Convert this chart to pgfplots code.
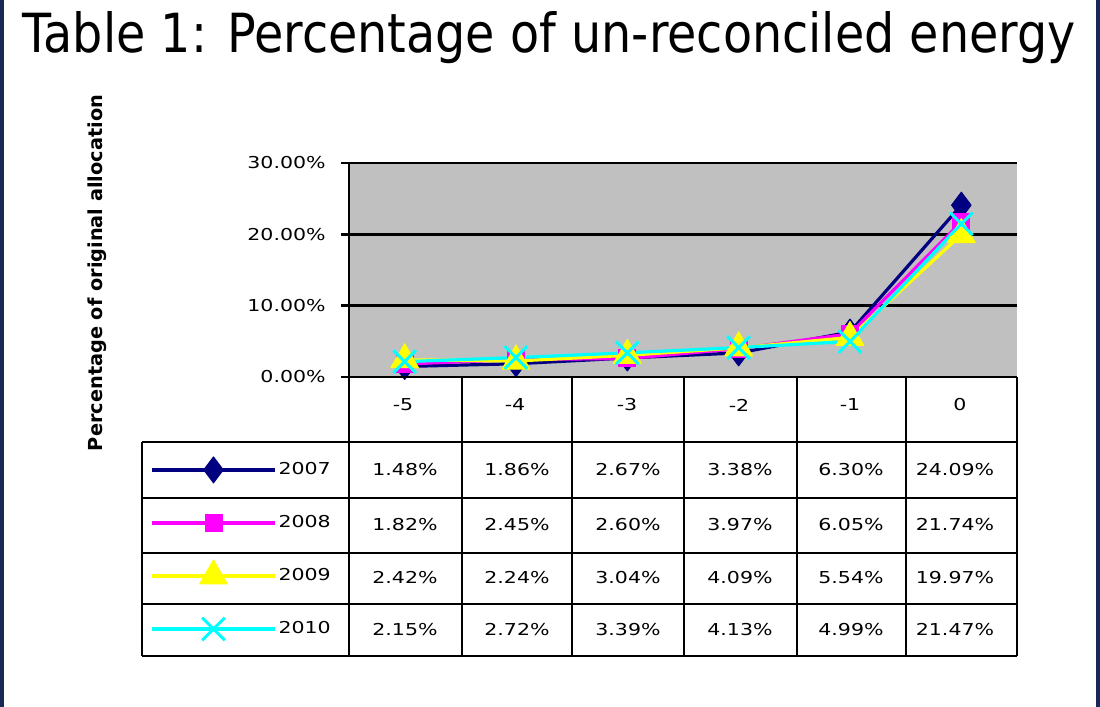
\documentclass[border=0pt]{standalone}
\usepackage{fontspec}
\setmainfont{DejaVu Sans}
\usepackage{pgfplots}
\pgfplotsset{compat=1.18}
\definecolor{navyc}{RGB}{0,0,128}
\definecolor{magc}{RGB}{255,0,255}
\definecolor{yelc}{RGB}{255,255,0}
\definecolor{cyac}{RGB}{0,255,255}
\definecolor{bgray}{RGB}{192,192,192}
\definecolor{framec}{RGB}{25,40,85}
\newcommand{\sx}[1]{\scalebox{1.25}[1]{#1}}
\newcommand{\tf}{\fontsize{8.2pt}{10pt}\selectfont}
\begin{document}
\begin{tikzpicture}
\begin{scope}[x=0.5pt,y=-0.5pt]
\fill[white] (0,0) rectangle (1100,707);
\fill[framec] (0,0) rectangle (4,707);
\fill[framec] (1096,0) rectangle (1100,707);
\node[anchor=base west, inner sep=0pt] at (22,52) {\resizebox{526.5pt}{20.5pt}{Table 1: Percentage of un-reconciled energy}};
\end{scope}
\begin{axis}[
  at={(174.5pt,-188.5pt)}, anchor=south west,
  width=334pt, height=107pt, scale only axis,
  xmin=-5.5, xmax=0.5, ymin=0, ymax=30,
  xtick=\empty, ytick={0,10,20,30},
  yticklabels={\sx{0.00\%},\sx{10.00\%},\sx{20.00\%},\sx{30.00\%}},
  ticklabel style={font=\tf},
  yticklabel style={inner sep=0pt, xshift=-7.5pt},
  /pgf/number format/assume math mode=true,
  axis lines*=left, axis line style={line width=1.2pt,-},
  ymajorgrids, major grid style={black,line width=1.2pt},
  tick align=outside, major tick length=4pt, tick style={black,line width=1.2pt},
  axis background/.style={fill=bgray},
  clip=false,
  ylabel={\resizebox{178pt}{!}{\bfseries Percentage of original allocation}},
  ylabel style={at={(axis description cs:-0.377,0.486)}, anchor=center},
  legend style={at={(-0.2979,-0.3084)}, anchor=north west, draw=none, fill=none,
    inner sep=0pt, row sep=0pt, column sep=1pt,
    nodes={inner sep=0pt, minimum height=26.5pt, anchor=west, font=\tf}},
  legend cell align=left,
  legend image code/.code={\draw[mark repeat=2,mark phase=2,#1] plot coordinates {(0pt,0pt)(30.75pt,0pt)(61.5pt,0pt)};},
]
\addplot[navyc, line width=1.6pt, line join=round, mark=diamond*, mark size=6.5pt, mark options={solid, fill=navyc, line width=0.5pt}]
  coordinates {(-5,1.48)(-4,1.86)(-3,2.67)(-2,3.38)(-1,6.30)(0,24.09)};
\addlegendentry{\sx{2007}}
\addplot[magc, line width=1.6pt, line join=round, mark=square*, mark size=4.25pt, mark options={solid, fill=magc, line width=0.5pt}]
  coordinates {(-5,1.82)(-4,2.45)(-3,2.60)(-2,3.97)(-1,6.05)(0,21.74)};
\addlegendentry{\sx{2008}}
\addplot[yelc, line width=1.6pt, line join=round, mark=triangle*, mark size=8pt, mark options={solid, fill=yelc, line width=0.5pt}]
  coordinates {(-5,2.42)(-4,2.24)(-3,3.04)(-2,4.09)(-1,5.54)(0,19.97)};
\addlegendentry{\sx{2009}}
\addplot[cyac, line width=1.6pt, line join=round, mark=x, mark size=8pt, mark options={solid, line width=1.5pt}]
  coordinates {(-5,2.15)(-4,2.72)(-3,3.39)(-2,4.13)(-1,4.99)(0,21.47)};
\addlegendentry{\sx{2010}}
\end{axis}
\begin{scope}[x=0.5pt,y=-0.5pt, line width=1.2pt]
\foreach \x in {349,462,572,684,797,906,1017} \draw (\x,377) -- (\x,656);
\foreach \y in {442,498,553,604,656} \draw (142,\y) -- (1017,\y);
\draw (142,442) -- (142,656);
\draw (349,377) -- (1017,377);
\foreach \x/\l in {403/-5,515/-4,627/-3,739/-2,850/-1,960/0}
  \node[font=\tf] at (\x,405) {\sx{\l}};
\foreach \x/\a/\b/\c/\d in {
  405/1.48/1.82/2.42/2.15,
  517/1.86/2.45/2.24/2.72,
  628/2.67/2.60/3.04/3.39,
  740/3.38/3.97/4.09/4.13,
  851/6.30/6.05/5.54/4.99,
  955/24.09/21.74/19.97/21.47}{
  \node[font=\tf] at (\x,470) {\sx{\a\%}};
  \node[font=\tf] at (\x,525) {\sx{\b\%}};
  \node[font=\tf] at (\x,578) {\sx{\c\%}};
  \node[font=\tf] at (\x,630) {\sx{\d\%}};
}
\end{scope}
\end{tikzpicture}
\end{document}
